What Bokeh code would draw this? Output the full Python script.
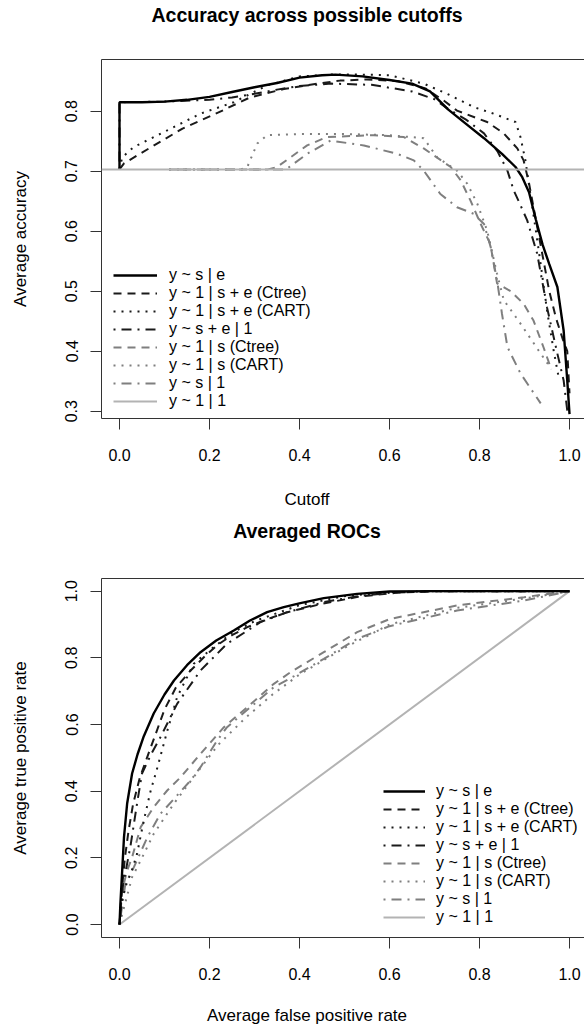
from bokeh.plotting import figure
from bokeh.layouts import column
from bokeh.models import (Range1d, Legend, LegendItem, FixedTicker,
                          PrintfTickFormatter, LinearAxis, Span)
from bokeh.embed import file_html
from bokeh.resources import INLINE

FONT = "Liberation Sans"

# ---------------- data: accuracy vs cutoff ----------------
series_labels = ["y ~ s | e", "y ~ 1 | s + e (Ctree)", "y ~ 1 | s + e (CART)",
                 "y ~ s + e | 1", "y ~ 1 | s (Ctree)", "y ~ 1 | s (CART)",
                 "y ~ s | 1", "y ~ 1 | 1"]

acc_x_sle = [0, 0, 0.05, 0.10, 0.15, 0.20, 0.25, 0.30, 0.35, 0.40, 0.45, 0.48, 0.54, 0.60, 0.65,
             0.69, 0.73, 0.77, 0.81, 0.85, 0.88, 0.895, 0.91, 0.925, 0.94, 0.955, 0.973, 0.987, 0.995, 1.0]
acc_y_sle = [0.703, 0.815, 0.815, 0.816, 0.819, 0.824, 0.832, 0.840, 0.847, 0.856, 0.860, 0.861, 0.858, 0.852, 0.846,
             0.833, 0.803, 0.779, 0.755, 0.729, 0.707, 0.690, 0.665, 0.620, 0.578, 0.545, 0.507, 0.434, 0.351, 0.295]

acc_x_ctree_se = [0, 0.01, 0.07, 0.14, 0.22, 0.29, 0.365, 0.44, 0.49, 0.55, 0.62, 0.68, 0.72, 0.75,
                  0.817, 0.854, 0.884, 0.898, 0.91, 0.925, 0.94, 0.955, 0.97, 0.985, 0.995, 1.0]
acc_y_ctree_se = [0.703, 0.713, 0.740, 0.771, 0.798, 0.823, 0.837, 0.846, 0.851, 0.853, 0.850, 0.838, 0.818, 0.801,
                  0.782, 0.763, 0.738, 0.718, 0.680, 0.620, 0.560, 0.500, 0.455, 0.420, 0.400, 0.330]

acc_x_cart_se = [0, 0.006, 0.031, 0.106, 0.18, 0.254, 0.328, 0.40, 0.47, 0.54, 0.60, 0.676, 0.728, 0.787,
                 0.831, 0.88, 0.891, 0.902, 0.913, 0.924, 0.935, 0.95, 0.965, 0.975]
acc_y_cart_se = [0.703, 0.723, 0.740, 0.768, 0.796, 0.815, 0.843, 0.858, 0.861, 0.861, 0.860, 0.846, 0.829, 0.807,
                 0.796, 0.782, 0.757, 0.718, 0.662, 0.607, 0.550, 0.468, 0.400, 0.360]

acc_x_se1 = [0, 0, 0.10, 0.20, 0.25, 0.30, 0.35, 0.40, 0.47, 0.56, 0.65, 0.70, 0.73, 0.77, 0.81, 0.84,
             0.862, 0.876, 0.89, 0.906, 0.928, 0.95, 0.973, 0.987, 0.995]
acc_y_se1 = [0.703, 0.815, 0.816, 0.819, 0.823, 0.829, 0.836, 0.842, 0.846, 0.844, 0.833, 0.820, 0.804, 0.786, 0.763, 0.733,
             0.701, 0.668, 0.645, 0.618, 0.563, 0.473, 0.396, 0.351, 0.301]

acc_x_ctree_s = [0.11, 0.33, 0.35, 0.417, 0.461, 0.565, 0.632, 0.676, 0.736, 0.758, 0.78, 0.802, 0.824,
                 0.839, 0.869, 0.898, 0.92, 0.942, 0.958]
acc_y_ctree_s = [0.703, 0.703, 0.707, 0.743, 0.757, 0.760, 0.757, 0.738, 0.707, 0.685, 0.651, 0.613, 0.579,
                 0.513, 0.500, 0.479, 0.451, 0.407, 0.373]

acc_x_cart_s = [0.11, 0.27, 0.284, 0.306, 0.328, 0.40, 0.50, 0.60, 0.676, 0.706, 0.75, 0.773, 0.795, 0.817,
                0.839, 0.854, 0.891, 0.936, 0.96]
acc_y_cart_s = [0.703, 0.703, 0.707, 0.746, 0.760, 0.762, 0.762, 0.760, 0.755, 0.723, 0.701, 0.679, 0.646, 0.601,
                0.529, 0.485, 0.446, 0.396, 0.370]

acc_x_s1 = [0.11, 0.37, 0.417, 0.469, 0.543, 0.617, 0.654, 0.676, 0.713, 0.75, 0.787, 0.81, 0.825, 0.839,
            0.85, 0.862, 0.891, 0.936]
acc_y_s1 = [0.703, 0.703, 0.729, 0.751, 0.743, 0.729, 0.718, 0.701, 0.662, 0.640, 0.629, 0.612, 0.573, 0.518,
            0.462, 0.407, 0.363, 0.313]

baseline_accuracy = 0.703

acc_x_ticks = [0.0, 0.2, 0.4, 0.6, 0.8, 1.0]
acc_y_ticks = [0.3, 0.4, 0.5, 0.6, 0.7, 0.8]

# ---------------- data: averaged ROC ----------------
roc_fpr_sle = [0, 0.002, 0.006, 0.01, 0.017, 0.028, 0.04, 0.054, 0.076, 0.10, 0.121, 0.15, 0.18, 0.215, 0.254,
               0.29, 0.328, 0.365, 0.402, 0.454, 0.528, 0.60, 0.7, 0.8, 0.9, 1.0]
roc_tpr_sle = [0, 0.063, 0.162, 0.262, 0.363, 0.453, 0.51, 0.565, 0.633, 0.69, 0.732, 0.778, 0.817, 0.852, 0.882,
               0.912, 0.937, 0.952, 0.964, 0.979, 0.992, 0.999, 1.0, 1.0, 1.0, 1.0]

roc_fpr_ctree_se = [0, 0.005, 0.012, 0.02, 0.03, 0.045, 0.065, 0.08, 0.10, 0.125, 0.158, 0.19, 0.217, 0.25, 0.284,
                    0.33, 0.373, 0.45, 0.53, 0.62, 0.7, 0.8, 1.0]
roc_tpr_ctree_se = [0, 0.10, 0.20, 0.28, 0.36, 0.44, 0.515, 0.57, 0.645, 0.71, 0.762, 0.805, 0.838, 0.868, 0.892,
                    0.917, 0.937, 0.962, 0.983, 0.996, 1.0, 1.0, 1.0]

roc_fpr_cart_se = [0, 0.005, 0.015, 0.027, 0.039, 0.054, 0.069, 0.084, 0.106, 0.128, 0.165, 0.20, 0.25, 0.30,
                   0.40, 0.50, 0.60, 0.70, 1.0]
roc_tpr_cart_se = [0, 0.07, 0.12, 0.16, 0.212, 0.312, 0.40, 0.47, 0.58, 0.682, 0.782, 0.822, 0.875, 0.91,
                   0.958, 0.985, 0.997, 1.0, 1.0]

roc_fpr_se1 = [0, 0.008, 0.024, 0.039, 0.05, 0.07, 0.091, 0.128, 0.18, 0.239, 0.313, 0.373, 0.454, 0.53, 0.60,
               0.70, 1.0]
roc_tpr_se1 = [0, 0.12, 0.232, 0.363, 0.453, 0.51, 0.562, 0.662, 0.762, 0.842, 0.907, 0.937, 0.967, 0.985, 0.995,
               1.0, 1.0]

roc_fpr_ctree_s = [0, 0.006, 0.017, 0.028, 0.047, 0.076, 0.106, 0.136, 0.18, 0.232, 0.284, 0.343, 0.38, 0.454,
                   0.528, 0.602, 0.75, 0.899, 1.0]
roc_tpr_ctree_s = [0, 0.102, 0.162, 0.202, 0.292, 0.352, 0.402, 0.442, 0.512, 0.592, 0.652, 0.722, 0.757, 0.817,
                   0.877, 0.917, 0.957, 0.982, 1.0]

roc_fpr_cart_s = [0, 0.028, 0.047, 0.076, 0.121, 0.173, 0.22, 0.28, 0.34, 0.40, 0.50, 0.60, 0.75, 0.90, 1.0]
roc_tpr_cart_s = [0, 0.142, 0.192, 0.272, 0.363, 0.457, 0.54, 0.62, 0.69, 0.75, 0.83, 0.90, 0.95, 0.978, 1.0]

roc_fpr_s1 = [0, 0.013, 0.032, 0.062, 0.091, 0.158, 0.18, 0.217, 0.239, 0.343, 0.388, 0.454, 0.528, 0.60, 0.75,
              0.90, 1.0]
roc_tpr_s1 = [0, 0.122, 0.172, 0.262, 0.332, 0.432, 0.472, 0.552, 0.592, 0.712, 0.745, 0.797, 0.857, 0.895, 0.942,
              0.972, 1.0]

roc_fpr_11 = [0.0, 1.0]
roc_tpr_11 = [0.0, 1.0]

roc_ticks = [0.0, 0.2, 0.4, 0.6, 0.8, 1.0]

# ---------------- styles / layout constants ----------------
DARK = "#1a1a1a"
GRAY = "#7f7f7f"
LIGHT = "#b3b3b3"
STYLES = [
    dict(line_color="black", line_width=2.4, line_dash="solid"),
    dict(line_color=DARK, line_width=2, line_dash="8 6"),
    dict(line_color=DARK, line_width=2, line_dash="2 6"),
    dict(line_color=DARK, line_width=2, line_dash="2 6 10 6"),
    dict(line_color=GRAY, line_width=2, line_dash="8 6"),
    dict(line_color=GRAY, line_width=2, line_dash="2 6"),
    dict(line_color=GRAY, line_width=2, line_dash="2 6 10 6"),
    dict(line_color=LIGHT, line_width=2, line_dash="solid"),
]
BOX = "#333333"
# horizontal centre of the titles (the reference centres them left of the box centre)
TEXT_CENTER = (306.5 - 119.0) / 450.0


def text_axis(text, gap, size, bold, line_color=None):
    """Axis whose single tick label carries a title text, placed at TEXT_CENTER."""
    return LinearAxis(ticker=FixedTicker(ticks=[TEXT_CENTER]),
                      major_label_overrides={TEXT_CENTER: text},
                      axis_line_color=line_color, axis_line_width=1,
                      major_tick_out=0, major_tick_in=0,
                      major_tick_line_color=None, minor_tick_line_color=None,
                      major_label_standoff=gap,
                      major_label_text_font=FONT, major_label_text_font_size=size,
                      major_label_text_font_style="bold" if bold else "normal",
                      major_label_text_color="black")


def make_fig(height, xr, yr, top, bottom, ticks_x, ticks_y, title, title_gap,
             xlabel, xlabel_gap, ylabel):
    p = figure(width=584, height=height, x_range=xr, y_range=yr,
               output_backend="svg", toolbar_location=None,
               min_border_left=101, min_border_right=0,
               min_border_top=top, min_border_bottom=bottom)
    p.outline_line_color = None
    p.xgrid.visible = False
    p.ygrid.visible = False
    xax = p.xaxis[0]
    yax = p.yaxis[0]
    for ax in (xax, yax):
        ax.major_tick_out = 11
        ax.major_tick_in = 0
        ax.minor_tick_line_color = None
        ax.axis_line_color = BOX
        ax.major_tick_line_color = BOX
        ax.major_label_text_font = FONT
        ax.major_label_text_font_size = "16px"
        ax.major_label_text_color = "black"
        ax.axis_label_text_font = FONT
        ax.axis_label_text_font_size = "17px"
        ax.axis_label_text_font_style = "normal"
        ax.axis_label_text_color = "black"
        ax.formatter = PrintfTickFormatter(format="%.1f")
    xax.ticker = FixedTicker(ticks=ticks_x)
    yax.ticker = FixedTicker(ticks=ticks_y)
    xax.major_label_standoff = 19
    yax.major_label_standoff = 13
    yax.major_label_orientation = "vertical"
    yax.axis_label = ylabel
    yax.axis_label_standoff = 33
    # top border of the box, carrying the main title
    p.add_layout(text_axis(title, title_gap, "19.5px", True, BOX), "above")
    # x title below the tick labels
    p.add_layout(text_axis(xlabel, xlabel_gap, "17px", False), "below")
    return p


def add_legend(p, renderers, x, y, glyph_w, standoff):
    items = [LegendItem(label=lab, renderers=[r]) for lab, r in zip(series_labels, renderers)]
    leg = Legend(items=items, location=(x, y), orientation="vertical",
                 border_line_color=None, background_fill_alpha=0,
                 padding=0, margin=0, spacing=0,
                 glyph_width=glyph_w, glyph_height=18, label_height=18,
                 label_standoff=standoff,
                 label_text_font=FONT, label_text_font_size="16px",
                 label_text_color="black")
    p.add_layout(leg, "center")


# ---------------- top: accuracy ----------------
p1 = make_fig(512, Range1d(-0.04, 1.0333), Range1d(0.2878, 0.8862), 59, 94,
              acc_x_ticks, acc_y_ticks,
              "Accuracy across possible cutoffs", 34,
              "Cutoff", 26, "Average accuracy")

p1.add_layout(Span(location=baseline_accuracy, dimension="width",
                   line_color=LIGHT, line_width=2))
acc_series = [(acc_x_sle, acc_y_sle), (acc_x_ctree_se, acc_y_ctree_se), (acc_x_cart_se, acc_y_cart_se),
              (acc_x_se1, acc_y_se1), (acc_x_ctree_s, acc_y_ctree_s), (acc_x_cart_s, acc_y_cart_s),
              (acc_x_s1, acc_y_s1), ([acc_x_ticks[0]], [baseline_accuracy])]
r1 = []
for (xs, ys), st in reversed(list(zip(acc_series, STYLES))):
    r1.append(p1.line(xs, ys, **st))
r1 = r1[::-1]
add_legend(p1, r1, 12, 8, 44, 12)

# ---------------- bottom: ROC ----------------
p2 = make_fig(520, Range1d(-0.04, 1.0333), Range1d(-0.039, 1.038), 66, 95,
              roc_ticks, roc_ticks,
              "Averaged ROCs", 37,
              "Average false positive rate", 23, "Average true positive rate")

roc_series = [(roc_fpr_sle, roc_tpr_sle), (roc_fpr_ctree_se, roc_tpr_ctree_se), (roc_fpr_cart_se, roc_tpr_cart_se),
              (roc_fpr_se1, roc_tpr_se1), (roc_fpr_ctree_s, roc_tpr_ctree_s), (roc_fpr_cart_s, roc_tpr_cart_s),
              (roc_fpr_s1, roc_tpr_s1), (roc_fpr_11, roc_tpr_11)]
r2 = []
for (xs, ys), st in reversed(list(zip(roc_series, STYLES))):
    r2.append(p2.line(xs, ys, **st))
r2 = r2[::-1]
add_legend(p2, r2, 282, 11, 42, 11)

layout = column(p1, p2, spacing=0)
open("out.html", "w").write(file_html(layout, INLINE))
